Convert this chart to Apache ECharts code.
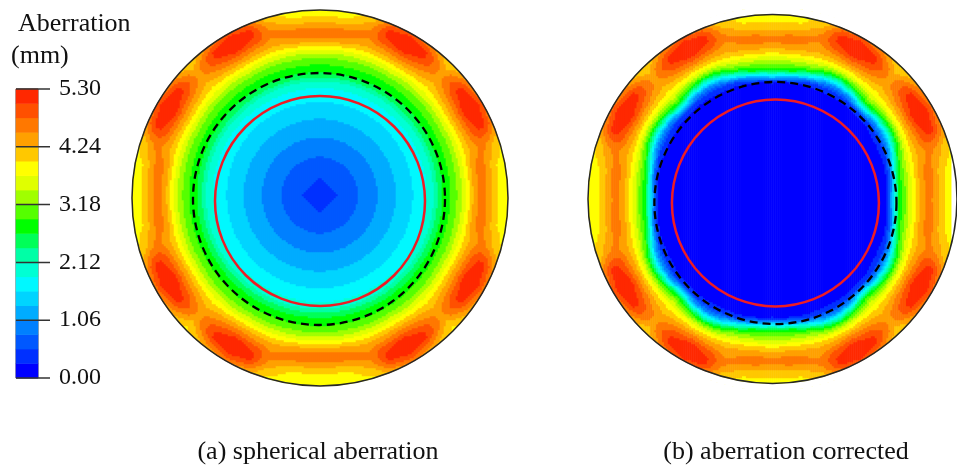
<!DOCTYPE html>
<html>
<head>
<meta charset="utf-8">
<script src="https://cdn.jsdelivr.net/npm/echarts@6/dist/echarts.min.js"></script>
<style>
html,body{margin:0;padding:0;background:#ffffff;}
#chart{width:957px;height:468px;}
</style>
</head>
<body>
<div id="chart"></div>
<script>
// ===================== DATA =====================
// Colour-bar tick labels (mm)
const tickLabels = ['0.00', '1.06', '2.12', '3.18', '4.24', '5.30'];
const maxAberration = 5.30;
// 20 contour bands, bottom (0 mm) to top (5.30 mm)
const bandColors = [
  '#0000ff', '#0030ff', '#0058ff', '#0080ff', '#00acff',
  '#00d4ff', '#00f8ff', '#00ffd4', '#00ffa6', '#00ff58',
  '#00ff00', '#55ff00', '#a0ff00', '#e0ff00', '#ffff00',
  '#ffc800', '#ffa000', '#ff7800', '#ff5000', '#ff2800'
];
// Polar sampling of the aberration maps (one octant, the maps have 4-fold mirror symmetry)
const radii  = [0, 20, 40, 60, 80, 95, 105, 112, 118, 124, 130, 136, 142, 148, 154, 160, 166, 172, 178, 184, 190];
const angles = [0, 10, 17, 23, 30, 37, 45];
// (a) spherical aberration, one row per angle
const aberrationA = [
  [0.42,0.54,0.82,1.09,1.38,1.62,1.80,2.00,2.40,2.72,2.90,3.12,3.45,3.85,4.30,4.62,4.55,4.25,3.98,3.85,3.80],
  [0.42,0.56,0.82,1.09,1.38,1.62,1.80,2.00,2.40,2.72,2.90,3.12,3.45,3.85,4.28,4.58,4.60,4.30,4.00,3.90,3.85],
  [0.42,0.57,0.82,1.09,1.38,1.62,1.80,2.00,2.40,2.72,2.90,3.12,3.45,3.82,4.15,4.38,4.55,4.55,4.35,4.10,3.95],
  [0.42,0.58,0.82,1.09,1.38,1.62,1.80,2.00,2.40,2.72,2.90,3.12,3.45,3.85,4.22,4.55,4.90,5.10,5.10,4.75,4.35],
  [0.42,0.59,0.82,1.09,1.38,1.62,1.80,2.00,2.40,2.72,2.90,3.15,3.50,3.90,4.32,4.70,5.10,5.28,5.28,5.00,4.60],
  [0.42,0.59,0.82,1.09,1.38,1.62,1.80,2.00,2.40,2.72,2.90,3.12,3.45,3.85,4.22,4.55,4.85,5.08,5.05,4.70,4.30],
  [0.42,0.59,0.82,1.09,1.38,1.62,1.80,2.00,2.40,2.72,2.90,3.12,3.45,3.80,4.05,4.25,4.40,4.40,4.25,4.00,3.90]
];
// (b) aberration corrected, one row per angle
const aberrationB = [
  [0.08,0.08,0.08,0.08,0.08,0.08,0.08,0.10,0.30,1.60,2.75,3.15,3.60,4.05,4.40,4.60,4.45,4.15,3.95,3.85,3.80],
  [0.08,0.08,0.08,0.08,0.08,0.08,0.08,0.10,0.20,1.00,2.60,3.12,3.55,4.00,4.38,4.60,4.55,4.25,4.00,3.90,3.85],
  [0.08,0.08,0.08,0.08,0.08,0.08,0.08,0.10,0.15,0.60,1.90,2.95,3.45,3.90,4.20,4.38,4.55,4.55,4.35,4.10,3.95],
  [0.08,0.08,0.08,0.08,0.08,0.08,0.08,0.10,0.20,0.50,1.20,2.40,3.20,3.80,4.22,4.55,4.90,5.10,5.10,4.75,4.35],
  [0.08,0.08,0.08,0.08,0.08,0.08,0.08,0.10,0.20,0.45,1.00,2.00,3.00,3.70,4.22,4.70,5.10,5.28,5.28,5.00,4.60],
  [0.08,0.08,0.08,0.08,0.08,0.08,0.08,0.10,0.15,0.40,1.10,2.30,3.10,3.75,4.17,4.55,4.85,5.08,5.05,4.70,4.30],
  [0.08,0.08,0.08,0.08,0.08,0.08,0.08,0.10,0.15,0.50,1.60,2.80,3.35,3.80,4.05,4.25,4.40,4.40,4.25,4.00,3.90]
];
// circle radii: [lens rim, design aperture (red), dashed]
const circleRadiiA = [188, 105, 126];
const circleRadiiB = [189, 106, 124];
const captions = ['(a) spherical aberration', '(b) aberration corrected'];

// ===================== LAYOUT =====================
const CELL = 2;
const panels = [
  { left: 132, top: 10, R: 188, field: [0, 3],  rimC: [0, 0], ringC: [[0, -3], [-1, -1]], table: aberrationA, radiiSet: circleRadiiA, capX: 318 },
  { left: 588, top: 10, R: 189, field: [0, -1], rimC: [0, 0], ringC: [[3, -4], [3, -4]],  table: aberrationB, radiiSet: circleRadiiB, capX: 786 }
];
const SERIF = '"Liberation Serif", "Times New Roman", serif';
const step = maxAberration / bandColors.length;

function sample(table, r, thetaDeg) {
  let t = thetaDeg;
  if (t > 45) t = 90 - t;
  let ai = 0;
  while (ai < angles.length - 2 && t > angles[ai + 1]) ai++;
  const at = Math.min(1, Math.max(0, (t - angles[ai]) / (angles[ai + 1] - angles[ai])));
  let ri = 0;
  while (ri < radii.length - 2 && r > radii[ri + 1]) ri++;
  const rt = Math.min(1, Math.max(0, (r - radii[ri]) / (radii[ri + 1] - radii[ri])));
  const v0 = table[ai][ri] * (1 - rt) + table[ai][ri + 1] * rt;
  const v1 = table[ai + 1][ri] * (1 - rt) + table[ai + 1][ri + 1] * rt;
  return v0 * (1 - at) + v1 * at;
}

function buildCells(p) {
  const n = Math.round(2 * p.R / CELL);
  const out = [];
  for (let i = 0; i < n; i++) {
    const x = -p.R + (i + 0.5) * CELL;
    if (p.left + p.R + x > 960) continue;
    for (let j = 0; j < n; j++) {
      const y = -p.R + (j + 0.5) * CELL;
      if (x * x + y * y > (p.R + 1.5) * (p.R + 1.5)) continue;
      const dx = x - p.field[0], dy = y - p.field[1];
      const r = Math.sqrt(dx * dx + dy * dy);
      const th = Math.atan2(Math.abs(dy), Math.abs(dx)) * 180 / Math.PI;
      let v = sample(p.table, r, th);
      v = Math.min(maxAberration - 1e-6, Math.max(0, v));
      out.push([i, j, v]);
    }
  }
  return { n, out };
}

const ringStyles = [
  { stroke: '#ffffff', width: 7, dash: null, dr: 4 },       // mask outside rim
  { stroke: '#262626', width: 1.5, dash: null, dr: 0 },     // rim
  { stroke: '#000000', width: 2.3, dash: [8, 5], dr: 0 },   // dashed circle
  { stroke: '#ee1c24', width: 2.5, dash: null, dr: 0 }      // red circle
];

function ringRenderer(params, api) {
  const c = api.coord([api.value(0), api.value(1)]);
  const s = api.size([api.value(2), api.value(2)]);
  const st = ringStyles[api.value(3)];
  return {
    type: 'circle',
    silent: true,
    shape: { cx: c[0], cy: c[1], r: s[0] + st.dr },
    style: { fill: 'none', stroke: st.stroke, lineWidth: st.width, lineDash: st.dash }
  };
}

// ===================== OPTION =====================
const grids = [], xAxes = [], yAxes = [], series = [];
panels.forEach((p, k) => {
  const size = 2 * p.R;
  const cells = buildCells(p);
  const cats = Array.from({ length: cells.n }, (_, i) => String(i));
  grids.push({ left: p.left, top: p.top, width: size, height: size, show: false });
  xAxes.push({ type: 'category', gridIndex: grids.length - 1, data: cats, show: false });
  yAxes.push({ type: 'category', gridIndex: grids.length - 1, data: cats, show: false });
  series.push({
    type: 'heatmap', xAxisIndex: grids.length - 1, yAxisIndex: grids.length - 1,
    data: cells.out, progressive: 0, silent: true, emphasis: { disabled: true },
    itemStyle: { borderWidth: 0 }
  });
  grids.push({ left: p.left, top: p.top, width: size, height: size, show: false });
  xAxes.push({ type: 'value', gridIndex: grids.length - 1, min: -p.R, max: p.R, show: false });
  yAxes.push({ type: 'value', gridIndex: grids.length - 1, min: -p.R, max: p.R, show: false });
  const rings = [
    [p.rimC[0], p.rimC[1], p.radiiSet[0], 0],
    [p.rimC[0], p.rimC[1], p.radiiSet[0], 1],
    [p.ringC[1][0], p.ringC[1][1], p.radiiSet[2], 2],
    [p.ringC[0][0], p.ringC[0][1], p.radiiSet[1], 3]
  ];
  series.push({
    type: 'custom', xAxisIndex: grids.length - 1, yAxisIndex: grids.length - 1,
    renderItem: ringRenderer, data: rings, clip: false, silent: true, z: 5
  });
});

// colour bar
const cbGrid = { left: 16, top: 89, width: 22, height: 289 };
grids.push(Object.assign({ show: true, borderColor: '#555', borderWidth: 1, backgroundColor: 'transparent' }, cbGrid));
const cbIdx = grids.length - 1;
xAxes.push({ type: 'category', gridIndex: cbIdx, data: ['c'], show: false });
yAxes.push({ type: 'category', gridIndex: cbIdx, data: bandColors.map((_, i) => String(i)), show: false });
series.push({
  type: 'heatmap', xAxisIndex: cbIdx, yAxisIndex: cbIdx, progressive: 0, silent: true,
  emphasis: { disabled: true }, z: 1,
  data: bandColors.map((_, i) => [0, i, (i + 0.5) * step])
});
grids.push(Object.assign({ show: false }, cbGrid));
const cbAx = grids.length - 1;
const tickStep = bandColors.length / (tickLabels.length - 1);
xAxes.push({ type: 'value', gridIndex: cbAx, show: false, min: 0, max: 1 });
yAxes.push({
  type: 'value', gridIndex: cbAx, position: 'right', min: 0, max: bandColors.length,
  interval: tickStep, z: 20,
  axisLine: { show: false },
  axisTick: { show: false },
  splitLine: { show: false },
  axisLabel: {
    show: true, margin: 21, fontFamily: SERIF, fontSize: 24, color: '#111',
    formatter: (v) => tickLabels[Math.round(v / tickStep)]
  }
});
// colour-bar tick marks (across the bar and 12 px beyond it)
series.push({
  type: 'custom', xAxisIndex: cbAx, yAxisIndex: cbAx, clip: false, silent: true, z: 10,
  data: tickLabels.map((_, i) => [i * tickStep]),
  renderItem: (params, api) => {
    const a = api.coord([0, api.value(0)]);
    const b = api.coord([1, api.value(0)]);
    return {
      type: 'line', silent: true,
      shape: { x1: a[0], y1: a[1], x2: b[0] + 12, y2: b[1] },
      style: { stroke: '#333', lineWidth: 1.5 }
    };
  }
});

const heatmapIdx = series.map((s, i) => s.type === 'heatmap' ? i : -1).filter(i => i >= 0);

const option = {
  animation: false,
  backgroundColor: '#ffffff',
  grid: grids,
  xAxis: xAxes,
  yAxis: yAxes,
  visualMap: {
    type: 'piecewise', show: false, dimension: 2, seriesIndex: heatmapIdx,
    pieces: bandColors.map((c, i) => ({ gte: i * step, lt: (i + 1) * step + (i === bandColors.length - 1 ? 1 : 0), color: c }))
  },
  graphic: [
    { type: 'text', x: 18, y: 24, style: { text: 'Aberration', font: '26px ' + SERIF, fill: '#111', align: 'left', verticalAlign: 'middle' } },
    { type: 'text', x: 11, y: 56, style: { text: '(mm)', font: '26px ' + SERIF, fill: '#111', align: 'left', verticalAlign: 'middle' } },
    { type: 'text', x: panels[0].capX, y: 452, style: { text: captions[0], font: '26px ' + SERIF, fill: '#111', align: 'center', verticalAlign: 'middle' } },
    { type: 'text', x: panels[1].capX, y: 452, style: { text: captions[1], font: '26px ' + SERIF, fill: '#111', align: 'center', verticalAlign: 'middle' } }
  ],
  series: series
};

const chart = echarts.init(document.getElementById('chart'), null, { renderer: 'canvas' });
chart.setOption(option);
</script>
</body>
</html>
